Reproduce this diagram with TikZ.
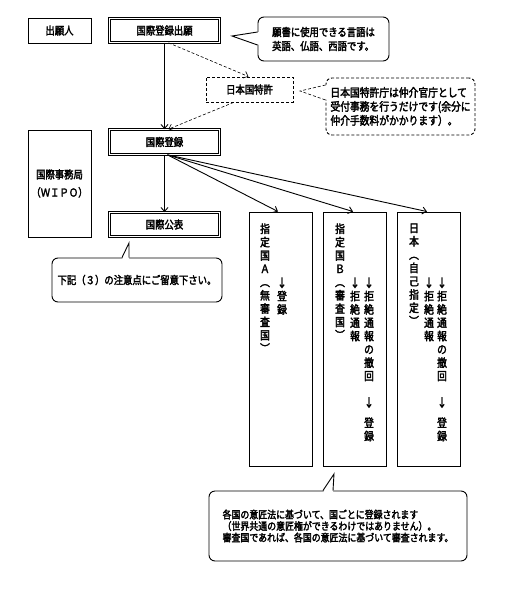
\documentclass[tikz,border=0pt]{standalone}
\usepackage{fontspec}
\setmainfont{Noto Sans CJK JP}[FakeStretch=0.85,FakeBold=2.5]
\usetikzlibrary{arrows.meta,calc}
\begin{document}
\begin{tikzpicture}[x=1pt,y=-1pt,line width=0.9pt,
  lbl/.style={font=\fontsize{11}{14}\selectfont},
  box/.style={draw,inner sep=0pt,lbl},
  dbox/.style={box,double,double distance=1.6pt,line width=0.7pt},
  dsh/.style={dash pattern=on 3pt off 2pt},
  callout/.style={draw,rounded corners=6pt,inner sep=0pt,align=left,lbl},
  arr/.style={-{Straight Barb[length=4pt,width=7pt]}},
  vtext/.style={anchor=north,inner sep=0pt,align=center,font=\fontsize{11.5}{13.3}\selectfont}]
\useasboundingbox (0,0) rectangle (508,600);
\fill[white] (0,0) rectangle (508,600);

% boxes
\node[box,minimum width=63pt,minimum height=25pt] (appl) at (59.5,30.5) {出願人};
\node[dbox,minimum width=110pt,minimum height=24pt] (iapp) at (164.5,30.5) {国際登録出願};
\node[box,dsh,minimum width=87pt,minimum height=25pt] (jpo) at (249.5,89.5) {日本国特許};
\node[dbox,minimum width=110pt,minimum height=25pt] (ireg) at (164.5,142) {国際登録};
\node[dbox,minimum width=110pt,minimum height=24pt] (pub) at (164.5,224.5) {国際公表};
\node[box,minimum width=63pt,minimum height=107pt,align=center,font=\fontsize{11}{18}\selectfont] (wipo) at (59.5,183.5) {国際事務局\\（ＷＩＰＯ）};

\node[box,minimum width=63pt,minimum height=254pt] (bA) at (280.5,339) {};
\node[box,minimum width=63pt,minimum height=254pt] (bB) at (354.5,339) {};
\node[box,minimum width=63pt,minimum height=254pt] (bC) at (428.5,339) {};

% vertical texts
\node[vtext] (a1) at (265,223) {指\\定\\国\\Ａ\\︵\\無\\審\\査\\国\\︶};
\node[vtext] (a2) at (282,277) {↓\\登\\録};
\node[vtext] (b1) at (340,223) {指\\定\\国\\Ｂ\\︵\\審\\査\\国\\︶};
\node[vtext] (b2) at (355,277) {↓\\拒\\絶\\通\\報};
\node[vtext] (b3) at (369,277) {↓\\拒\\絶\\通\\報\\の\\撤\\回\\\mbox{}\\↓\\[7pt]登\\録};
\node[vtext] (c1) at (414,223) {日\\本\\︵\\自\\己\\指\\定\\︶};
\node[vtext] (c2) at (429,277) {↓\\拒\\絶\\通\\報};
\node[vtext] (c3) at (442,277) {↓\\拒\\絶\\通\\報\\の\\撤\\回\\\mbox{}\\↓\\[7pt]登\\録};

% connectors
\draw[arr] (iapp) -- (ireg);
\draw[arr] (ireg) -- (pub);
\draw[arr,dsh,line width=0.6pt] ([xshift=4pt]iapp.south) -- ([xshift=-1pt]jpo.north);
\draw[arr,dsh,line width=0.6pt] ([xshift=-16pt]jpo.south) -- ([xshift=4pt]ireg.north);
\draw[arr] ([xshift=3pt]ireg.south) -- ([xshift=-2.5pt]bA.north);
\draw[arr] ([xshift=3pt]ireg.south) -- ([xshift=-1.5pt]bB.north);
\draw[arr] ([xshift=3pt]ireg.south) -- ([xshift=-1.5pt]bC.north);

% callout 1
\node[callout,minimum width=131pt,minimum height=44pt] (k1) at (323.5,39) {願書に使用できる言語は\\英語、仏語、西語です。};
\coordinate (t1) at (232,36);
\fill[white] (259.6,32) -- (t1) -- (259.6,45) -- cycle;
\draw (k1.west |- 0,32) -- (t1) -- (k1.west |- 0,45);

% callout 2
\node[callout,dsh,minimum width=149pt,minimum height=57pt,font=\fontsize{11.5}{14}\selectfont] (k2) at (400.5,106.5) {日本国特許庁は仲介官庁として\\受付事務を行うだけです(余分に\\仲介手数料がかかります）。};
\coordinate (t2) at (300,91);
\fill[white] (327.6,85) -- (t2) -- (327.6,100) -- cycle;
\draw[dsh,line width=0.6pt] (k2.west |- 0,85) -- (t2) -- (k2.west |- 0,100);

% callout 3
\node[callout,minimum width=170pt,minimum height=44pt] (k3) at (137,280) {下記（３）の注意点にご留意下さい。};
\coordinate (t3) at (129,243);
\fill[white] (122,259.6) -- (t3) -- (129,259.6) -- cycle;
\draw (122,0 |- k3.north) -- (t3) -- (129,0 |- k3.north);

% callout 4
\node[callout,minimum width=258pt,minimum height=70pt,font=\fontsize{10.5}{11.5}\selectfont] (k4) at (338,526) {各国の意匠法に基づいて、国ごとに登録されます\\（世界共通の意匠権ができるわけではありません）。\\審査国であれば、各国の意匠法に基づいて審査されます。};
\coordinate (t4) at (334,474);
\fill[white] (323,492.6) -- (t4) -- (333,492.6) -- cycle;
\draw (323,0 |- k4.north) -- (t4) -- (333,0 |- k4.north);
\end{tikzpicture}
\end{document}
